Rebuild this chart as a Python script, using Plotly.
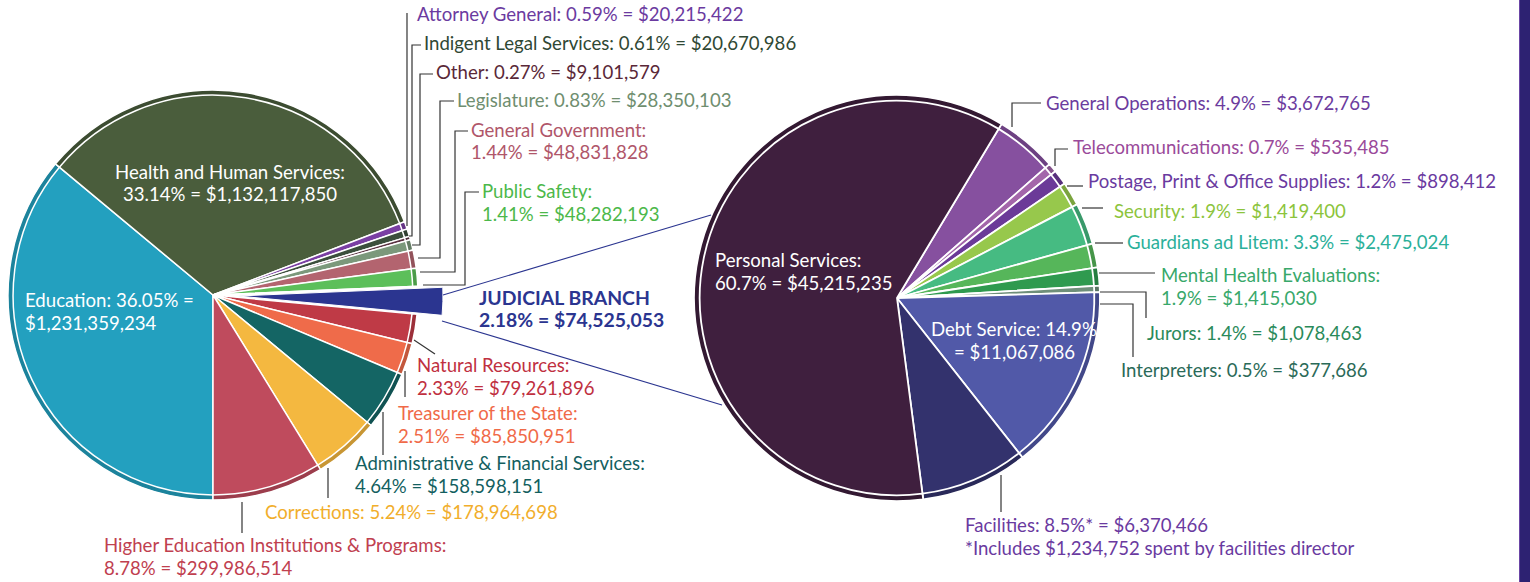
import plotly.graph_objects as go

W, H = 1530, 582

# ---------------- data: state budget (left pie) ----------------
state_names = ["Education", "Health and Human Services", "Attorney General",
               "Indigent Legal Services", "Other", "Legislature",
               "General Government", "Public Safety", "JUDICIAL BRANCH",
               "Natural Resources", "Treasurer of the State",
               "Administrative & Financial Services", "Corrections",
               "Higher Education Institutions & Programs"]
state_pct = [36.05, 33.14, 0.59, 0.61, 0.27, 0.83, 1.44, 1.41, 2.18,
             2.33, 2.51, 4.64, 5.24, 8.78]
state_amount = [1231359234, 1132117850, 20215422, 20670986, 9101579,
                28350103, 48831828, 48282193, 74525053, 79261896,
                85850951, 158598151, 178964698, 299986514]
state_colors = ["#23a0bf", "#4a5d3c", "#7a3fa3", "#3b4f3c", "#5a3242",
                "#7b987b", "#b3646f", "#5cbf5a", "#2b3590", "#bf3a46",
                "#ef6b4a", "#146564", "#f4b840", "#bf4b5d"]
state_text_colors = ["#ffffff", "#ffffff", "#6b3aa0", "#2f4834", "#5a2838",
                     "#6f8e6f", "#b0566a", "#4cb84a", "#2b3590", "#c0303f",
                     "#f06a48", "#135f5f", "#f1ae2c", "#c0404f"]

# ---------------- data: judicial branch (right pie) ----------------
jud_names = ["General Operations", "Telecommunications",
             "Postage, Print & Office Supplies", "Security",
             "Guardians ad Litem", "Mental Health Evaluations", "Jurors",
             "Interpreters", "Debt Service", "Facilities", "Personal Services"]
jud_pct = [4.9, 0.7, 1.2, 1.9, 3.3, 1.9, 1.4, 0.5, 14.9, 8.5, 60.7]
jud_amount = [3672765, 535485, 898412, 1419400, 2475024, 1415030, 1078463,
              377686, 11067086, 6370466, 45215235]
jud_colors = ["#86509f", "#a366aa", "#6b3a98", "#97c84c", "#46bb82",
              "#56b65a", "#2f9a4f", "#6f8f7a", "#5159a8", "#33326d", "#3f1f3e"]
jud_text_colors = ["#6c3c9e", "#9a4a9a", "#6a3aa0", "#8cc43c", "#2bb09a",
                   "#38a86a", "#2a8a5a", "#2a6a58", "#ffffff", "#6a3aa0",
                   "#ffffff"]
facilities_note = "*Includes $1,234,752 spent by facilities director"

FONT = "Lato"
FS = 18.6
FS_BOLD = 19.4
GAP = 22.5


def px(x, y):
    return x / W, 1 - y / H


def darker(hexc, f=0.82):
    h = hexc.lstrip("#")
    r, g, b = (int(h[i:i + 2], 16) for i in (0, 2, 4))
    return "#%02x%02x%02x" % (int(r * f), int(g * f), int(b * f))


def dom(cx, cy, r):
    x0, y1 = px(cx - r, cy - r)
    x1, y0 = px(cx + r, cy + r)
    return dict(x=[max(0, x0), x1], y=[y0, y1])


L_CX, L_CY, L_R = 213, 295, 205
R_CX, R_CY, R_R = 897, 298, 203
JUD_IDX = state_names.index("JUDICIAL BRANCH")
PULL_PX = 25

fig = go.Figure()

left_cols = [c if i != JUD_IDX else "rgba(0,0,0,0)" for i, c in enumerate(state_colors)]
fig.add_trace(go.Pie(values=state_amount, labels=state_names, sort=False,
                     direction="clockwise", rotation=180, textinfo="none",
                     marker=dict(colors=left_cols, line=dict(color="white", width=1.5)),
                     domain=dom(L_CX, L_CY, L_R), showlegend=False, hoverinfo="label+percent"))
rim_cols = [darker(c) if i != JUD_IDX else "rgba(0,0,0,0)" for i, c in enumerate(state_colors)]
fig.add_trace(go.Pie(values=state_amount, labels=state_names, sort=False,
                     direction="clockwise", rotation=180, textinfo="none", hole=0.975,
                     marker=dict(colors=rim_cols, line=dict(color="white", width=1.5)),
                     domain=dom(L_CX, L_CY, L_R), showlegend=False, hoverinfo="skip"))
# pulled-out judicial slice: same pie, shifted outward
jud_cols = [c if i == JUD_IDX else "rgba(0,0,0,0)" for i, c in enumerate(state_colors)]
jud_line = ["white" if i == JUD_IDX else "rgba(0,0,0,0)" for i in range(len(state_colors))]
fig.add_trace(go.Pie(values=state_amount, labels=state_names, sort=False,
                     direction="clockwise", rotation=180, textinfo="none",
                     marker=dict(colors=jud_cols, line=dict(color=jud_line, width=1)),
                     domain=dom(L_CX + PULL_PX, L_CY + 1, L_R), showlegend=False,
                     hoverinfo="skip"))

fig.add_trace(go.Pie(values=jud_amount, labels=jud_names, sort=False,
                     direction="clockwise", rotation=31, textinfo="none",
                     marker=dict(colors=jud_colors, line=dict(color="white", width=1.8)),
                     domain=dom(R_CX, R_CY, R_R), showlegend=False, hoverinfo="label+percent"))
fig.add_trace(go.Pie(values=jud_amount, labels=jud_names, sort=False,
                     direction="clockwise", rotation=31, textinfo="none", hole=0.972,
                     marker=dict(colors=[darker(c) for c in jud_colors],
                                 line=dict(color="white", width=1.8)),
                     domain=dom(R_CX, R_CY, R_R), showlegend=False, hoverinfo="skip"))


def fmt_pct(p):
    return "%g" % p


# label placement: (x, y of first line, style, anchor)
state_pos = {
    "Education": (23, 300, "eqbreak", "left"),
    "Health and Human Services": (230, 172, "two", "center"),
    "Attorney General": (415, 14, "one", "left"),
    "Indigent Legal Services": (422, 43, "one", "left"),
    "Other": (434, 72, "one", "left"),
    "Legislature": (455, 100, "one", "left"),
    "General Government": (469, 130, "two", "left"),
    "Public Safety": (480, 191, "two", "left"),
    "JUDICIAL BRANCH": (477, 297, "plain", "left"),
    "Natural Resources": (415, 365, "two", "left"),
    "Treasurer of the State": (396, 413, "two", "left"),
    "Administrative & Financial Services": (353, 463, "two", "left"),
    "Corrections": (263, 512, "one", "left"),
    "Higher Education Institutions & Programs": (102, 545, "two", "left"),
}
jud_pos = {
    "General Operations": (1044, 103, "one", "left"),
    "Telecommunications": (1071, 147, "one", "left"),
    "Postage, Print & Office Supplies": (1086, 181, "one", "left"),
    "Security": (1112, 211, "one", "left"),
    "Guardians ad Litem": (1125, 242, "one", "left"),
    "Mental Health Evaluations": (1159, 275, "two", "left"),
    "Jurors": (1145, 333, "one", "left"),
    "Interpreters": (1119, 370, "one", "left"),
    "Debt Service": (1014, 329, "pctbreak", "center"),
    "Facilities": (963, 525, "note", "left"),
    "Personal Services": (713, 260, "two", "left"),
}


def make_lines(name, pct, amt, style):
    p = fmt_pct(pct)
    a = "${:,}".format(amt)
    if style == "one":
        return [f"{name}: {p}% = {a}"]
    if style == "two":
        return [f"{name}:", f"{p}% = {a}"]
    if style == "plain":
        return [name, f"{p}% = {a}"]
    if style == "eqbreak":
        return [f"{name}: {p}% =", a]
    if style == "pctbreak":
        return [f"{name}: {p}%", f"= {a}"]
    if style == "note":
        return [f"{name}: {p}%* = {a}", facilities_note]
    return [name]


def add_labels(names, pcts, amts, colors, pos):
    for n, p, a, c in zip(names, pcts, amts, colors):
        x, y, style, anchor = pos[n]
        bold = n == "JUDICIAL BRANCH"
        for k, line in enumerate(make_lines(n, p, a, style)):
            t = "<b>" + line + "</b>" if bold else line
            fx, fy = px(x, y + k * GAP)
            fig.add_annotation(x=fx, y=fy, xref="paper", yref="paper", text=t,
                               showarrow=False, xanchor=anchor, yanchor="middle",
                               align=anchor,
                               font=dict(family=FONT, size=FS_BOLD if bold else FS, color=c))


add_labels(state_names, state_pct, state_amount, state_text_colors, state_pos)
add_labels(jud_names, jud_pct, jud_amount, jud_text_colors, jud_pos)

leaders = [
    [(407, 13), (407, 226)],
    [(421, 45), (412, 45), (412, 236), (409, 236)],
    [(433, 74), (420, 74), (420, 245), (412, 245)],
    [(454, 101), (440, 101), (440, 258), (418, 258)],
    [(468, 131), (455, 131), (455, 272), (420, 272)],
    [(479, 192), (465, 192), (465, 285), (423, 285)],
    [(414, 340), (435, 354)],
    [(405, 371), (405, 397)],
    [(383, 412), (383, 455)],
    [(328, 468), (328, 498)],
    [(242, 502), (242, 533)],
    [(1012, 127), (1012, 103), (1041, 103)],
    [(1055, 166), (1055, 149), (1068, 149)],
    [(1067, 186), (1083, 186)],
    [(1082, 208), (1103, 208)],
    [(1095, 243), (1123, 243)],
    [(1099, 273), (1155, 273)],
    [(1100, 292), (1146, 292), (1146, 318)],
    [(1100, 304), (1133, 304), (1133, 357)],
    [(1001, 475), (1001, 512)],
]


def path(pts):
    s = ""
    for i, (x, y) in enumerate(pts):
        fx, fy = px(x, y)
        s += ("M" if i == 0 else "L") + f"{fx:.5f},{fy:.5f} "
    return s.strip()


shapes = []
for pts in leaders:
    shapes.append(dict(type="path", xref="paper", yref="paper", path=path(pts),
                       line=dict(color="#333333", width=1.2)))
for pts in [[(443, 295), (711, 215)], [(442, 321), (722, 405)]]:
    shapes.append(dict(type="path", xref="paper", yref="paper", path=path(pts),
                       line=dict(color="#2b3590", width=1.1)))
bx0, _ = px(1520, 0)
bl, _ = px(1519.5, 0)
shapes.append(dict(type="rect", xref="paper", yref="paper", x0=bx0, x1=1.01,
                   y0=-0.05, y1=1.05, fillcolor="#2d2272", line=dict(width=0), layer="below"))
shapes.append(dict(type="line", xref="paper", yref="paper", x0=bl, x1=bl,
                   y0=-0.05, y1=1.05, line=dict(color="#6a45a5", width=1)))

fig.update_layout(width=W, height=H, autosize=False,
                  margin=dict(l=0, r=0, t=0, b=0),
                  paper_bgcolor="white", plot_bgcolor="white",
                  shapes=shapes, showlegend=False,
                  font=dict(family=FONT, size=FS))

page_fix = ("document.documentElement.style.overflow='hidden';"
            "document.body.style.margin='0';"
            "document.body.style.overflow='hidden';")
fig.write_html("out.html", post_script=page_fix,
               config={"displayModeBar": False})
